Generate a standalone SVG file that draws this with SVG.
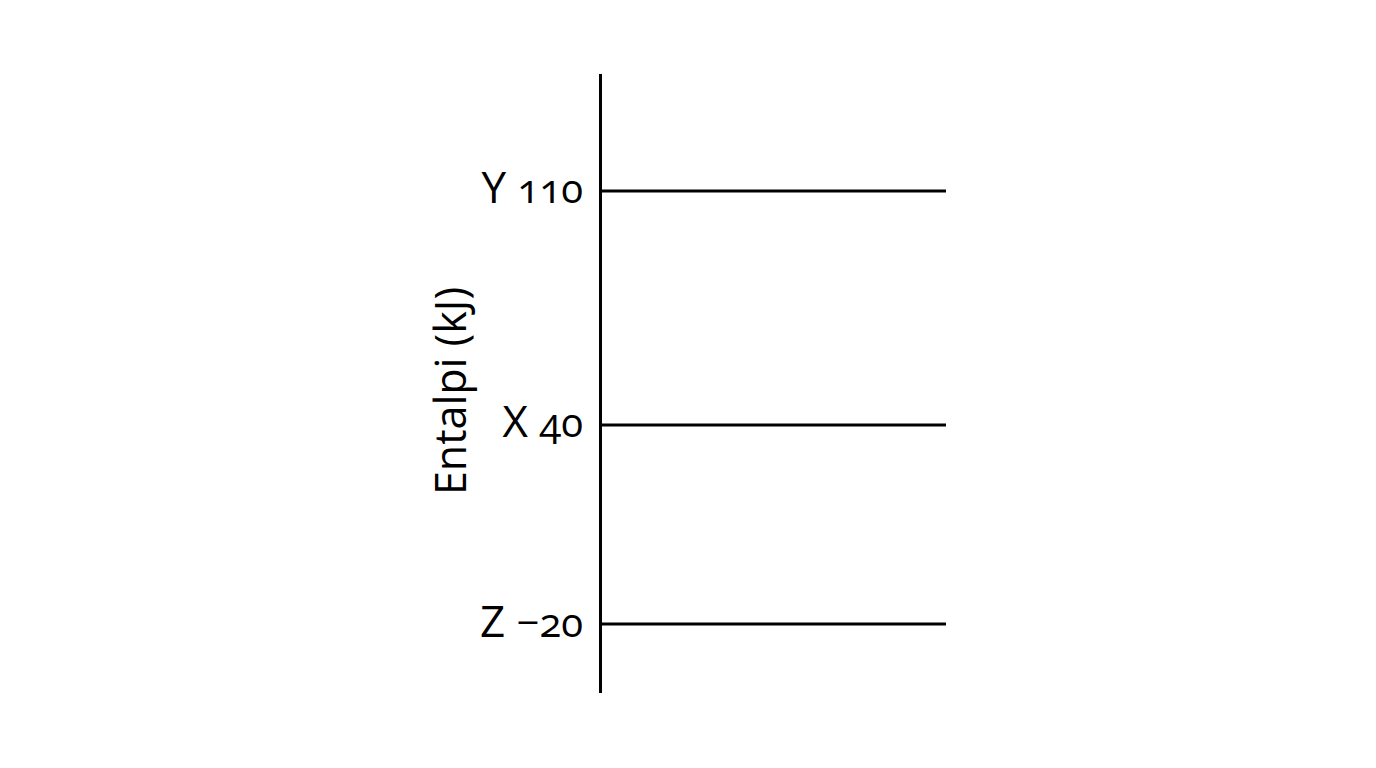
<svg xmlns="http://www.w3.org/2000/svg" width="1376" height="768" viewBox="0 0 1376 768">
<style>
.ln{stroke:#000;stroke-width:3;fill:none}
.t{font-family:"Open Sans","Noto Sans",sans-serif;font-size:43px;font-weight:500;fill:#000}
.l{font-size:44px}
.d{font-size:40px;font-variant-numeric:oldstyle-nums;font-feature-settings:"onum" 1}
</style>
<rect width="1376" height="768" fill="#fff"/>
<g id="connectors">
<line class="ln" x1="600.5" y1="74" x2="600.5" y2="693"/>
<line class="ln" x1="600" y1="191" x2="946" y2="191"/>
<line class="ln" x1="600" y1="425" x2="946" y2="425"/>
<line class="ln" x1="600" y1="624" x2="946" y2="624"/>
</g>
<g id="axis-label"><text class="t" transform="translate(466,391) rotate(-90)" text-anchor="middle">Entalpi (kJ)</text></g>
<g id="level-Y"><text class="t l" x="583" y="203" text-anchor="end">Y <tspan class="d">110</tspan></text></g>
<g id="level-X"><text class="t l" x="583" y="437" text-anchor="end">X <tspan class="d">40</tspan></text></g>
<g id="level-Z"><text class="t l" x="583" y="637" text-anchor="end">Z <tspan class="d">−20</tspan></text></g>
</svg>
